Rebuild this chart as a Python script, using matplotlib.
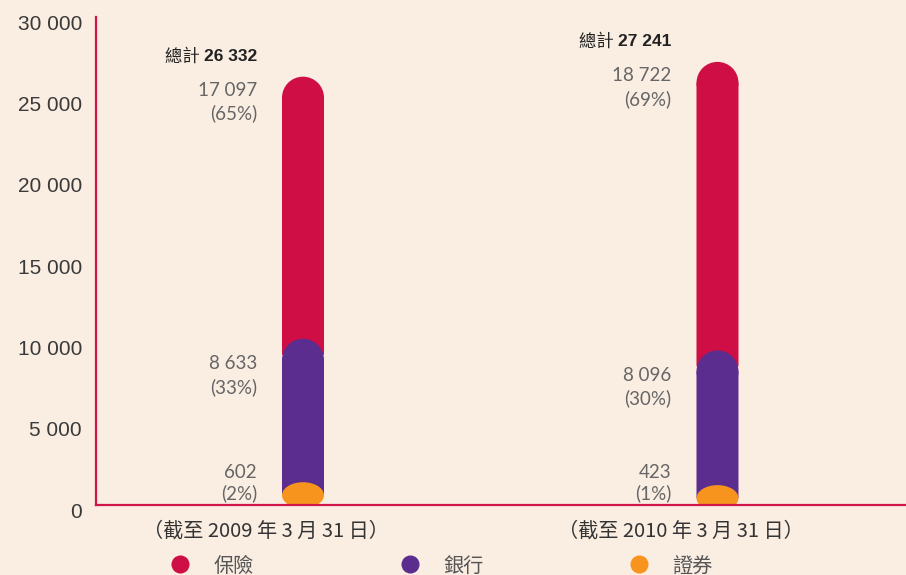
import matplotlib
matplotlib.use('Agg')
import matplotlib.pyplot as plt
import matplotlib.transforms as mtransforms
from matplotlib.patches import Ellipse
from matplotlib.lines import Line2D

# data
periods = ['（截至 2009 年 3 月 31 日）', '（截至 2010 年 3 月 31 日）']
insurance = [17097, 18722]
banking = [8633, 8096]
securities = [602, 423]
totals = [26332, 27241]
pct_insurance = ['(65%)', '(69%)']
pct_banking = ['(33%)', '(30%)']
pct_securities = ['(2%)', '(1%)']
legend_labels = ['保險', '銀行', '證券']
yticks = [0, 5000, 10000, 15000, 20000, 25000, 30000]

BG = '#FAEDE2'
RED = '#CE0E45'
PURPLE = '#5B2D8E'
ORANGE = '#F7941D'
AXIS = '#D0154A'
CJK = ['Noto Sans CJK TC', 'DejaVu Sans']
NUM = ['Liberation Sans', 'DejaVu Sans']
THIN = ['Lato', 'DejaVu Sans']


def fmt(v):
    return '{:,}'.format(v).replace(',', ' ')


fig = plt.figure(figsize=(9.06, 5.75), dpi=100, facecolor=BG)
ax = fig.add_axes([96 / 906, 70 / 575, 810 / 906, 488 / 575], facecolor=BG)
ax.set_xlim(-0.4994, 1.4548)
ax.set_ylim(0, 30000)

w = 42 / 414.5
px = 30000 / 488.0   # data units per pixel
cap = 21 * px

for i in range(len(periods)):
    o, b, ins = securities[i], banking[i], insurance[i]
    top = o + b + ins
    # insurance (top, rounded)
    ax.bar(i, top - cap - (o + b), bottom=o + b, width=w, color=RED, lw=0,
           zorder=2, snap=False)
    ax.add_patch(Ellipse((i, top - cap), w, 2 * cap, color=RED, lw=0, zorder=2))
    # banking
    ax.bar(i, b - 5 * px, bottom=o, width=w, color=PURPLE, lw=0, zorder=3, snap=False)
    ax.add_patch(Ellipse((i, o + b - 5 * px), w, 2 * cap, color=PURPLE, lw=0, zorder=3))
    # securities
    ax.add_patch(Ellipse((i, o), w, 26 * px, color=ORANGE, lw=0, zorder=4))

    # labels
    kw = dict(textcoords='offset pixels', ha='right', va='center',
              fontsize=13.5, family=THIN, color='#666666')
    ax.annotate(fmt(ins), xy=(i, top), xytext=(-46, -14), **kw)
    ax.annotate(pct_insurance[i], xy=(i, top), xytext=(-46, -37), **kw)
    ax.annotate(fmt(b), xy=(i, o + b), xytext=(-46, -9), **kw)
    ax.annotate(pct_banking[i], xy=(i, o + b), xytext=(-46, -32), **kw)
    ax.annotate(fmt(o), xy=(i, 0), xytext=(-46, 33), **kw)
    ax.annotate(pct_securities[i], xy=(i, 0), xytext=(-46, 12), **kw)

    tot = ax.annotate(fmt(totals[i]), xy=(i, top), xytext=(-46, 20),
                      textcoords='offset pixels', ha='right', va='center',
                      fontsize=12.5, family=NUM, fontweight='bold', color='#222222')
    ax.annotate('總計 ', xy=(0, 0.5), xycoords=tot, ha='right', va='center',
                fontsize=12.5, family=CJK, color='#222222')

    ax.annotate(periods[i], xy=(i, 0), xytext=(-37, -26), textcoords='offset pixels',
                ha='center', va='center', fontsize=14.5, family=CJK, color='#333333',
                annotation_clip=False)

# axes
for s in ['top', 'right']:
    ax.spines[s].set_visible(False)
for s in ['left', 'bottom']:
    ax.spines[s].set_color(AXIS)
    ax.spines[s].set_linewidth(1.6)
    ax.spines[s].set_zorder(5)
ax.set_xticks([])
ax.set_yticks([])

ytrans = mtransforms.offset_copy(ax.get_yaxis_transform(), fig=fig, x=-14, y=-7, units='dots')
for v in yticks:
    ax.text(0, v, fmt(v), transform=ytrans, ha='right', va='center',
            fontsize=15, family=NUM, color='#3a3a3a', clip_on=False)

handles = [Line2D([], [], ls='none', marker='o', ms=13, color=c, mec='none')
           for c in [RED, PURPLE, ORANGE]]
fig.legend(handles, legend_labels, ncol=3, loc='center left',
           bbox_to_anchor=(170 / 906, 9 / 575), frameon=False,
           handlelength=1.0, handletextpad=1.15, columnspacing=7.25,
           borderpad=0, borderaxespad=0,
           prop={'family': CJK, 'size': 14.5}, labelcolor='#555555')

fig.savefig('out.png', dpi=100, facecolor=BG)
